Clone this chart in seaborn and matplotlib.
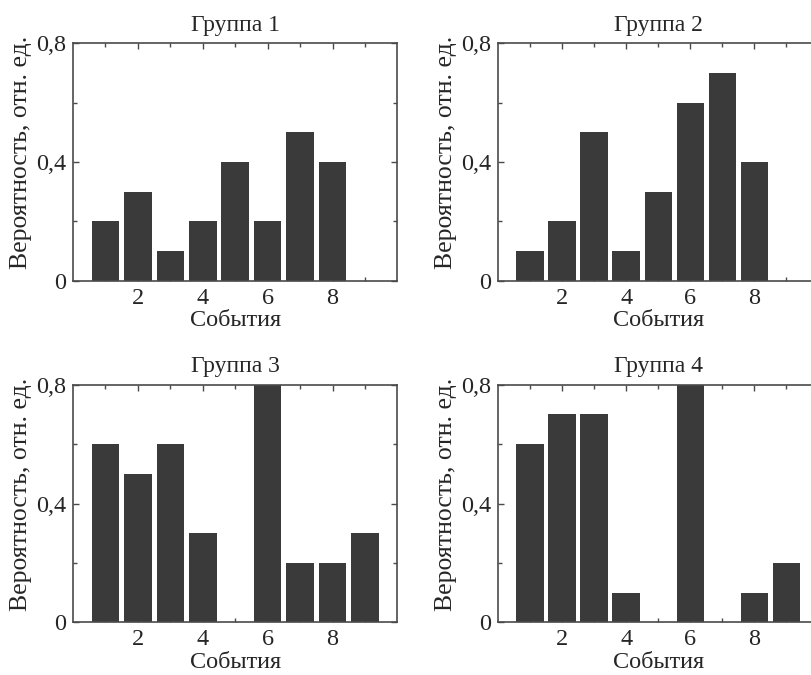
import numpy as np
import pandas as pd
import matplotlib
matplotlib.use("Agg")
import matplotlib.pyplot as plt
import seaborn as sns

# Values
titles = ["Группа 1", "Группа 2", "Группа 3", "Группа 4"]
events_a = [1, 2, 3, 4, 5, 6, 7, 8]
events_b = [1, 2, 3, 4, 5, 6, 7, 8, 9]
group1 = [0.2, 0.3, 0.1, 0.2, 0.4, 0.2, 0.5, 0.4]
group2 = [0.1, 0.2, 0.5, 0.1, 0.3, 0.6, 0.7, 0.4]
group3 = [0.6, 0.5, 0.6, 0.3, 0.0, 0.8, 0.2, 0.2, 0.3]
group4 = [0.6, 0.7, 0.7, 0.1, 0.0, 0.8, 0.0, 0.1, 0.2]
yticks = [0, 0.4, 0.8]
ytick_labels = ["0", "0,4", "0,8"]
xticks = [2, 4, 6, 8]

sns.set_style("ticks")
plt.rcParams["font.family"] = ["Liberation Serif", "DejaVu Serif"]
plt.rcParams["xtick.direction"] = "in"
plt.rcParams["ytick.direction"] = "in"

fig = plt.figure(figsize=(8.11, 6.75), dpi=100)

# axes rectangles in figure fractions (right column runs off the edge like the scan)
boxes = [
    [0.090, 0.584, 0.400, 0.352],
    [0.614, 0.584, 0.395, 0.352],
    [0.090, 0.078, 0.400, 0.352],
    [0.614, 0.078, 0.395, 0.352],
]
series = [(events_a, group1), (events_a, group2), (events_b, group3), (events_b, group4)]

for box, title, (ev, vals) in zip(boxes, titles, series):
    ax = fig.add_axes(box)
    df = pd.DataFrame({"event": ev, "p": vals})
    sns.barplot(data=df, x="event", y="p", native_scale=True, width=0.85,
                color="#3a3a3a", saturation=1, linewidth=0, errorbar=None, ax=ax)
    ax.set_xlim(0, 10)
    ax.set_ylim(0, 0.8)
    ax.set_xticks(xticks)
    ax.set_xticks([1, 3, 5, 7, 9], minor=True)
    ax.set_yticks(yticks)
    ax.set_yticklabels(ytick_labels)
    ax.set_yticks([0.2, 0.6], minor=True)
    ax.tick_params(which="both", top=True, right=True, direction="in",
                   color="#4a4a4a", width=1)
    ax.tick_params(which="major", length=4, labelsize=17.5, pad=5)
    ax.tick_params(which="minor", length=3)
    for s in ax.spines.values():
        s.set_visible(True)
        s.set_color("#4a4a4a")
        s.set_linewidth(1.2)
    ax.set_title(title, fontsize=17, pad=9)
    ax.set_xlabel("События", fontsize=17.5, labelpad=1)
    ax.set_ylabel("Вероятность, отн. ед.", fontsize=18.5, labelpad=3)
    ax.yaxis.label.set_y(0.54)

fig.savefig("out.png", dpi=100)
